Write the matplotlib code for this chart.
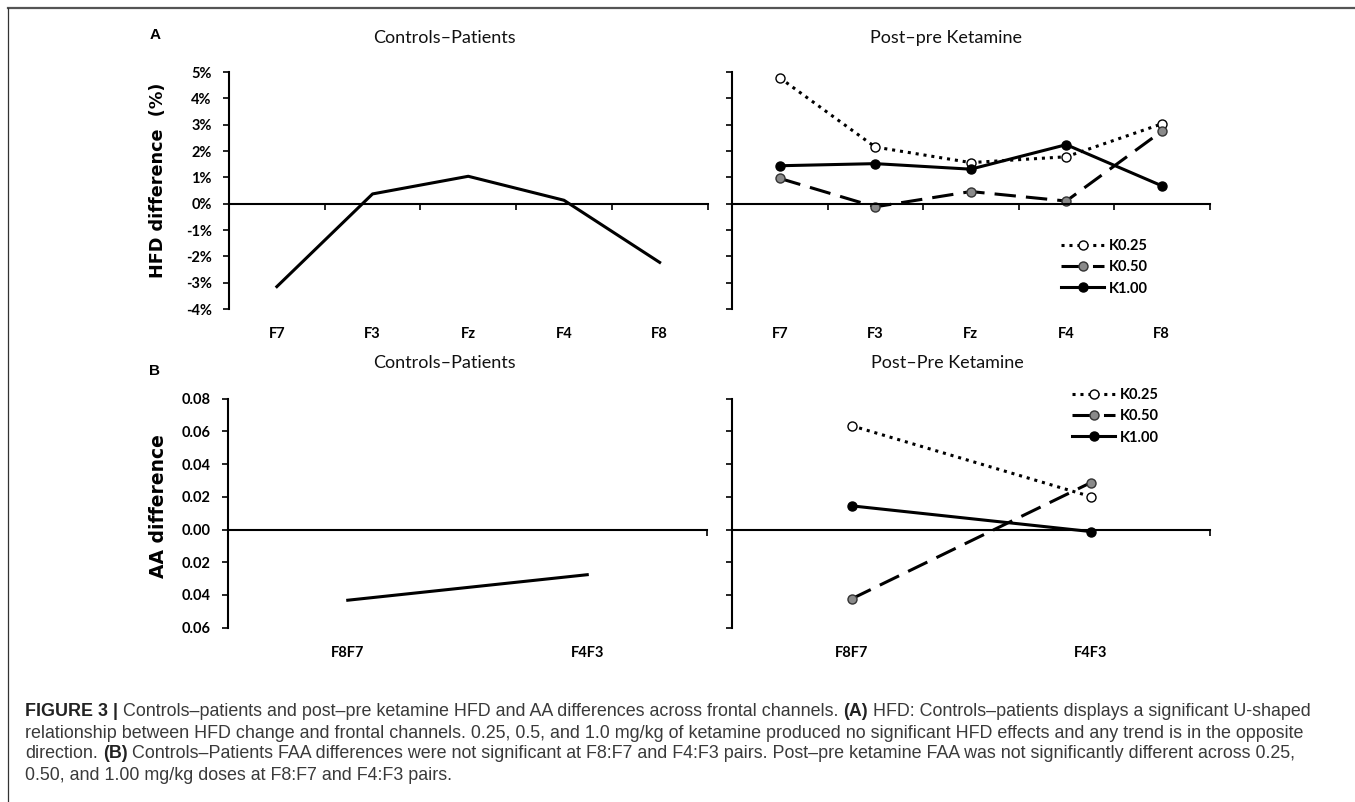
import matplotlib
matplotlib.use("Agg")
import matplotlib.pyplot as plt
from matplotlib.lines import Line2D
from matplotlib.ticker import FuncFormatter

# frontal channels / channel pairs
hfd_channels = ["F7", "F3", "Fz", "F4", "F8"]
aa_pairs = ["F8F7", "F4F3"]

# (A) HFD difference in %
hfd_controls_patients = [-3.15, 0.37, 1.04, 0.13, -2.23]
hfd_k025 = [4.78, 2.15, 1.56, 1.78, 3.03]
hfd_k050 = [0.96, -0.12, 0.46, 0.10, 2.75]
hfd_k100 = [1.44, 1.52, 1.31, 2.24, 0.68]

# (B) AA difference
aa_controls_patients = [-0.0432, -0.0276]
aa_k025 = [0.0635, 0.0202]
aa_k050 = [-0.0424, 0.0286]
aa_k100 = [0.0145, -0.0012]

dose_labels = ["K0.25", "K0.50", "K1.00"]

hfd_ticks = [-4, -3, -2, -1, 0, 1, 2, 3, 4, 5]
aa_ticks = [-0.06, -0.04, -0.02, 0.0, 0.02, 0.04, 0.06, 0.08]

plt.rcParams["font.family"] = ["Lato", "DejaVu Sans"]

W, H = 1355, 802
fig = plt.figure(figsize=(W / 100, H / 100), dpi=100)

# line style for each ketamine dose
dose_styles = [
    dict(linestyle=(0, (1, 1.6)), marker="o", markerfacecolor="white", markeredgecolor="black"),
    dict(linestyle=(0, (7, 3.3)), marker="o", markerfacecolor="#8a8a8a", markeredgecolor="#333333"),
    dict(linestyle="-", marker="o", markerfacecolor="black", markeredgecolor="black"),
]


def px_axes(x0, x1, ytop, ybot):
    return fig.add_axes([x0 / W, 1 - ybot / H, (x1 - x0) / W, (ybot - ytop) / H])


def style_axes(ax, labels, minor_x, yticks, fmt, show_ylabels):
    n = len(labels)
    ax.set_xlim(-0.5, n - 0.5)
    ax.set_ylim(yticks[0], yticks[-1])
    ax.patch.set_visible(False)
    ax.spines["right"].set_visible(False)
    ax.spines["bottom"].set_visible(False)
    # horizontal axis crosses at zero
    ax.spines["top"].set_position(("data", 0))
    ax.spines["top"].set_linewidth(1.5)
    ax.spines["left"].set_linewidth(1.5)
    ax.set_xticks(range(n))
    ax.set_xticklabels(labels, fontweight="bold", fontsize=10.5)
    ax.set_xticks(minor_x, minor=True)
    ax.tick_params(axis="x", which="major", length=0, pad=13, top=False, bottom=True)
    ax.tick_params(axis="x", which="minor", top=True, bottom=False, direction="in",
                   length=4, width=1.2)
    ax.set_yticks(yticks)
    ax.yaxis.set_major_formatter(FuncFormatter(fmt))
    ax.tick_params(axis="y", direction="out", length=4, width=1.2, pad=8.5,
                   labelsize=10.5, labelleft=show_ylabels)
    for lbl in ax.get_yticklabels():
        lbl.set_fontweight("bold")


def pct(v, _):
    return f"{v:.0f}%"


def aa_fmt(v, _):
    return f"{abs(v):.2f}"


ax_hl = px_axes(229, 707.5, 72, 309)
ax_hr = px_axes(732, 1209.5, 72, 309)
ax_al = px_axes(228, 707, 398.7, 627.7)
ax_ar = px_axes(732, 1210, 398.7, 627.7)

hfd_minor = [0.5, 1.5, 2.5, 3.5, 4.5]
aa_minor = [0, 1, 1.5]

style_axes(ax_hl, hfd_channels, hfd_minor, hfd_ticks, pct, True)
style_axes(ax_hr, hfd_channels, hfd_minor, hfd_ticks, pct, False)
style_axes(ax_al, aa_pairs, aa_minor, aa_ticks, aa_fmt, True)
style_axes(ax_ar, aa_pairs, aa_minor, aa_ticks, aa_fmt, False)

# controls - patients
ax_hl.plot(range(len(hfd_channels)), hfd_controls_patients, color="black", lw=2.2)
ax_al.plot(range(len(aa_pairs)), aa_controls_patients, color="black", lw=2.2)

# post - pre ketamine
for label, vals, st in zip(dose_labels, [hfd_k025, hfd_k050, hfd_k100], dose_styles):
    ax_hr.plot(range(len(hfd_channels)), vals, color="black", lw=2.2, markersize=6.5,
               markeredgewidth=1, label=label, **st)
for label, vals, st in zip(dose_labels, [aa_k025, aa_k050, aa_k100], dose_styles):
    ax_ar.plot(range(len(aa_pairs)), vals, color="black", lw=2.2, markersize=6.5,
               markeredgewidth=1, label=label, **st)

leg_kw = dict(loc="upper left", bbox_transform=fig.transFigure, frameon=False,
              borderpad=0, borderaxespad=0, handlelength=2.95, handletextpad=0.3,
              labelspacing=0.5, prop=dict(family="Lato", weight="bold", size=10.5))
ax_hr.legend(bbox_to_anchor=(1061 / W, 1 - 239 / H), **leg_kw)
ax_ar.legend(bbox_to_anchor=(1072 / W, 1 - 388 / H), **leg_kw)

# panel titles
title_kw = dict(ha="center", va="center", fontsize=13, color="#111111")
fig.text(444 / W, 1 - 38 / H, "Controls–Patients", **title_kw)
fig.text(946 / W, 1 - 38 / H, "Post–pre Ketamine", **title_kw)
fig.text(444 / W, 1 - 363 / H, "Controls–Patients", **title_kw)
fig.text(947 / W, 1 - 363 / H, "Post–Pre Ketamine", **title_kw)

# y labels
fig.text(158 / W, 1 - 180 / H, "HFD difference  (%)", rotation=90, ha="center", va="center",
         fontsize=12.7, fontweight="bold", family="DejaVu Sans")
fig.text(158 / W, 1 - 506 / H, "AA difference", rotation=90, ha="center", va="center",
         fontsize=13.5, fontweight="bold", family="DejaVu Sans")

# panel letters
fig.text(155 / W, 1 - 35 / H, "A", ha="center", va="center", fontsize=11,
         fontweight="bold", family="Liberation Sans")
fig.text(155 / W, 1 - 371 / H, "B", ha="center", va="center", fontsize=11,
         fontweight="bold", family="Liberation Sans")

# frame lines
fig.add_artist(Line2D([8 / W, 1], [1 - 8 / H, 1 - 8 / H], transform=fig.transFigure,
                      color="#555555", lw=1.6))
fig.add_artist(Line2D([8 / W, 8 / W], [1 - 8 / H, 0], transform=fig.transFigure,
                      color="#333333", lw=0.9))

# caption, with bold runs
cap_size = 12.9
renderer = fig.canvas.get_renderer()


def measure(s, bold=False):
    t = fig.text(0, 0, s, fontsize=cap_size, family="Liberation Sans",
                 fontweight="bold" if bold else "normal")
    w = t.get_window_extent(renderer).width
    t.remove()
    return w


space_w = measure("a a") - measure("aa")


def caption_line(y, pieces, x=25):
    for text, bold in pieces:
        t = fig.text(x / W, 1 - y / H, text, ha="left", va="center", fontsize=cap_size,
                     family="Liberation Sans", fontweight="bold" if bold else "normal",
                     color="#222222" if bold else "#3a3a3a")
        x += t.get_window_extent(renderer).width + space_w


caption_line(712, [("FIGURE 3 |", True),
                   ("Controls–patients and post–pre ketamine HFD and AA differences across "
                    "frontal channels.", False),
                   ("(A)", True),
                   ("HFD: Controls–patients displays a significant U-shaped", False)])
caption_line(733, [("relationship between HFD change and frontal channels. 0.25, 0.5, and 1.0 "
                    "mg/kg of ketamine produced no significant HFD effects and any trend is "
                    "in the opposite", False)])
caption_line(754, [("direction.", False), ("(B)", True),
                   ("Controls–Patients FAA differences were not significant at F8:F7 and "
                    "F4:F3 pairs. Post–pre ketamine FAA was not significantly different "
                    "across 0.25,", False)])
caption_line(775, [("0.50, and 1.00 mg/kg doses at F8:F7 and F4:F3 pairs.", False)])

fig.savefig("out.png", dpi=100)
